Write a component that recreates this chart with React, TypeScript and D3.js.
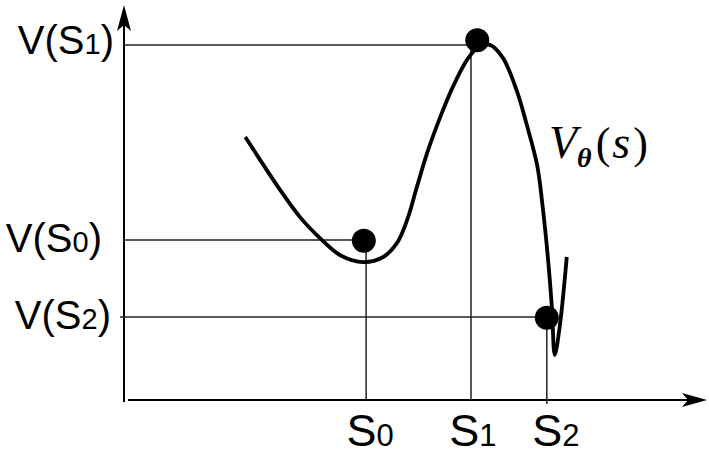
import React from 'react'
import * as d3 from 'd3'

// state positions on the s axis and their values V(s)
const stateIds = ['0', '1', '2']
const stateS = [42.3, 60.7, 74.0]
const stateV = [40.5, 89.9, 21.0]
// dot markers (slightly off the guide crossings, as drawn)
const markerS = [41.9, 61.8, 74.0]
const markerV = [40.3, 91.1, 20.8]

// the approximated value function V_theta(s)
const curveS = [21.1, 23.7, 27.2, 30.7, 34.2, 37.7, 41.8, 45.3, 47.7, 49.5, 51.2, 53.0, 55.3, 57.5, 60.0, 61.8, 64.0, 66.3, 68.8, 70.5, 72.3, 73.3, 74.2, 74.9, 75.4, 76.3, 77.5]
const curveV = [66.6, 60.8, 53.2, 46.3, 41.0, 36.7, 34.9, 36.2, 39.7, 45.6, 53.9, 62.5, 71.6, 79.2, 86.1, 89.1, 89.9, 86.6, 78.0, 69.6, 59.5, 48.6, 35.9, 23.3, 11.4, 19.0, 36.2]

const W = 709
const H = 456
const axisX = 124
const axisY = 400

// label nudges
const leftLabelEnd = [102, 114, 111]
const leftLabelBase = [12, 9, 12]
const bottomLabelDx = [4, 2, 9]

const sans = '"Liberation Sans", Arial, sans-serif'
const serif = '"Liberation Serif", "Times New Roman", serif'

export default function App() {
  const x = d3.scaleLinear().domain([0, 100]).range([125, 695])
  const y = d3.scaleLinear().domain([0, 100]).range([axisY, 5])

  const pts: [number, number][] = curveS.map((s, i) => [s, curveV[i]])
  const line = d3.line<[number, number]>()
    .x(d => x(d[0]))
    .y(d => y(d[1]))
    .curve(d3.curveCatmullRom.alpha(0.5))

  const guide = '#222'

  return (
    <svg width={W} height={H} style={{ position: 'absolute', left: 0, top: 0, background: '#fff' }}>
      {/* axes */}
      <line x1={axisX} x2={axisX} y1={402} y2={20} stroke="#000" strokeWidth={2} />
      <path d={`M${axisX},5 L${axisX + 7},31 L${axisX},25 L${axisX - 7},31 Z`} fill="#000" />
      <line x1={128} x2={695} y1={axisY} y2={axisY} stroke="#000" strokeWidth={2} />
      <path d={`M707,${axisY} L682,${axisY - 7} L688,${axisY} L682,${axisY + 7} Z`} fill="#000" />

      {/* guide lines */}
      {stateIds.map((id, i) => (
        <g key={'g' + id}>
          <line x1={i === 2 ? axisX - 4 : axisX} x2={x(markerS[i])} y1={y(stateV[i])} y2={y(stateV[i])}
            stroke={guide} strokeWidth={1.5} />
          <line x1={x(stateS[i])} x2={x(stateS[i])} y1={y(stateV[i])} y2={i === 2 ? axisY + 4 : axisY}
            stroke={guide} strokeWidth={1.5} />
        </g>
      ))}

      {/* value curve */}
      <path d={line(pts) ?? ''} fill="none" stroke="#000" strokeWidth={3.8} strokeLinejoin="round" />

      {/* state markers */}
      {stateIds.map((id, i) => (
        <circle key={'c' + id} cx={x(markerS[i])} cy={y(markerV[i])} r={12} fill="#000" />
      ))}

      {/* V(S) labels on the y axis */}
      {stateIds.map((id, i) => (
        <text key={'l' + id} x={leftLabelEnd[i]} y={y(stateV[i]) + leftLabelBase[i]} textAnchor="end"
          fontFamily={sans} fill="#000">
          <tspan fontSize={40}>V(S</tspan>
          <tspan fontSize={29}>{id}</tspan>
          <tspan fontSize={40}>)</tspan>
        </text>
      ))}

      {/* S labels on the x axis */}
      {stateIds.map((id, i) => (
        <text key={'b' + id} x={x(stateS[i]) + bottomLabelDx[i]} y={446} textAnchor="middle"
          fontFamily={sans} fill="#000">
          <tspan fontSize={45}>S</tspan>
          <tspan fontSize={31}>{id}</tspan>
        </text>
      ))}

      {/* curve name */}
      <text x={549} y={158} fontFamily={serif} fill="#000">
        <tspan fontSize={46} fontStyle="italic">V</tspan>
        <tspan fontSize={28} fontStyle="italic" fontWeight="bold" dy={9}>θ</tspan>
        <tspan fontSize={44} dy={-9} dx={4}>(</tspan>
        <tspan fontSize={46} fontStyle="italic" dx={2}>s</tspan>
        <tspan fontSize={44} dx={3}>)</tspan>
      </text>
    </svg>
  )
}
